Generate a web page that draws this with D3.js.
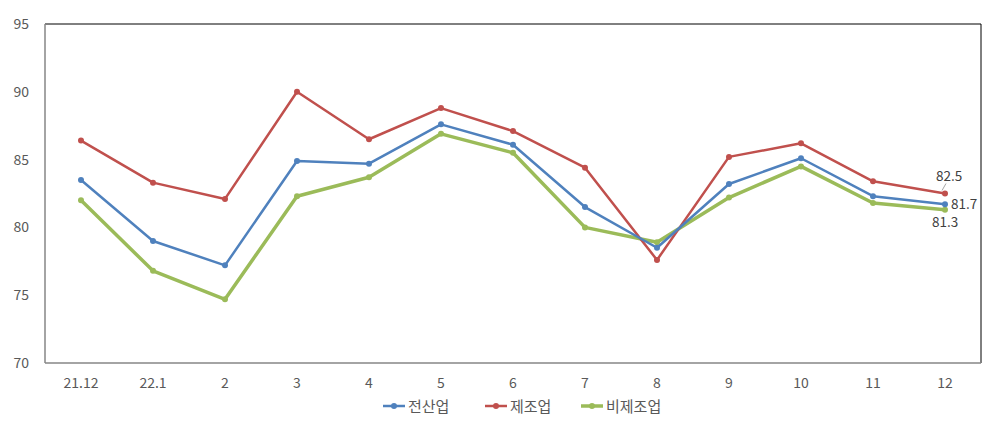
<!DOCTYPE html>
<html><head><meta charset="utf-8">
<script src="https://cdn.jsdelivr.net/npm/d3@7"></script>
<style>body{margin:0;background:#fff;} svg{display:block;font-family:"Noto Sans CJK KR","Noto Sans",sans-serif;}</style>
</head><body><svg id="c" width="1000" height="426"></svg>
<script>
const categories = ["21.12","22.1","2","3","4","5","6","7","8","9","10","11","12"];
const yTicks = [70,75,80,85,90,95];
const seriesNames = ["전산업","제조업","비제조업"];
const allIndustry = [83.5,79.0,77.2,84.9,84.7,87.6,86.1,81.5,78.5,83.2,85.1,82.3,81.7];
const manufacturing = [86.4,83.3,82.1,90.0,86.5,88.8,87.1,84.4,77.6,85.2,86.2,83.4,82.5];
const nonManufacturing = [82.0,76.8,74.7,82.3,83.7,86.9,85.5,80.0,78.9,82.2,84.5,81.8,81.3];
const colors = ["#4F81BD","#C0504D","#9BBB59"];
const widths = [2.5,2.5,3.5];

const svg = d3.select("#c");
const L=45,T=24,R=981,B=363;
const x = d3.scaleBand().domain(categories).range([L,R]);
const y = d3.scaleLinear().domain([70,95]).range([B,T]);

// border
svg.append("line").attr("x1",L).attr("x2",R).attr("y1",T).attr("y2",T).attr("stroke","#000").attr("stroke-width",1);
svg.append("line").attr("x1",R).attr("x2",R).attr("y1",T).attr("y2",B).attr("stroke","#000").attr("stroke-width",1);
svg.append("line").attr("x1",L).attr("x2",L).attr("y1",T).attr("y2",B).attr("stroke","#868686").attr("stroke-width",1.5);
svg.append("line").attr("x1",L).attr("x2",R).attr("y1",B).attr("y2",B).attr("stroke","#868686").attr("stroke-width",1.5);

// y labels
svg.selectAll(".yt").data(yTicks).enter().append("text")
  .attr("x",29).attr("y",d=>y(d)+5).attr("text-anchor","end")
  .attr("font-size",14).attr("fill","#595959").text(d=>d);
// x labels
svg.selectAll(".xt").data(categories).enter().append("text")
  .attr("x",d=>x(d)+x.bandwidth()/2).attr("y",388).attr("text-anchor","middle")
  .attr("font-size",14).attr("fill","#595959").text(d=>d);

const series = [allIndustry,manufacturing,nonManufacturing];
const line = d3.line().x((d,i)=>x(categories[i])+x.bandwidth()/2).y(d=>y(d));
[2,1,0].forEach(k=>{
  svg.append("path").datum(series[k]).attr("d",line).attr("fill","none")
    .attr("stroke",colors[k]).attr("stroke-width",widths[k]).attr("stroke-linejoin","round");
  svg.selectAll(".m"+k).data(series[k]).enter().append("circle")
    .attr("cx",(d,i)=>x(categories[i])+x.bandwidth()/2).attr("cy",d=>y(d))
    .attr("r",3).attr("fill",colors[k]);
});

// data labels for last point
const lx = x(categories[12])+x.bandwidth()/2;
svg.append("line").attr("x1",lx-3).attr("y1",y(manufacturing[12])-3).attr("x2",lx+1).attr("y2",y(manufacturing[12])-10)
  .attr("stroke","#a6a6a6").attr("stroke-width",1);
svg.append("text").attr("x",lx-9).attr("y",y(manufacturing[12])-13).attr("font-size",13.5).attr("fill","#404040").text(manufacturing[12].toFixed(1));
svg.append("text").attr("x",lx+6).attr("y",y(allIndustry[12])+5).attr("font-size",13.5).attr("fill","#404040").text(allIndustry[12].toFixed(1));
svg.append("text").attr("x",lx-13).attr("y",y(nonManufacturing[12])+17).attr("font-size",13.5).attr("fill","#404040").text(nonManufacturing[12].toFixed(1));

// legend
const legX = [383,485,581];
seriesNames.forEach((n,k)=>{
  const g = svg.append("g").attr("transform",`translate(${legX[k]},406)`);
  g.append("line").attr("x1",0).attr("x2",22).attr("stroke",colors[k]).attr("stroke-width",widths[k]);
  g.append("circle").attr("cx",11).attr("r",3).attr("fill",colors[k]);
  g.append("text").attr("x",25).attr("y",5.5).attr("font-size",15).attr("fill","#595959").text(n);
});
</script></body></html>
